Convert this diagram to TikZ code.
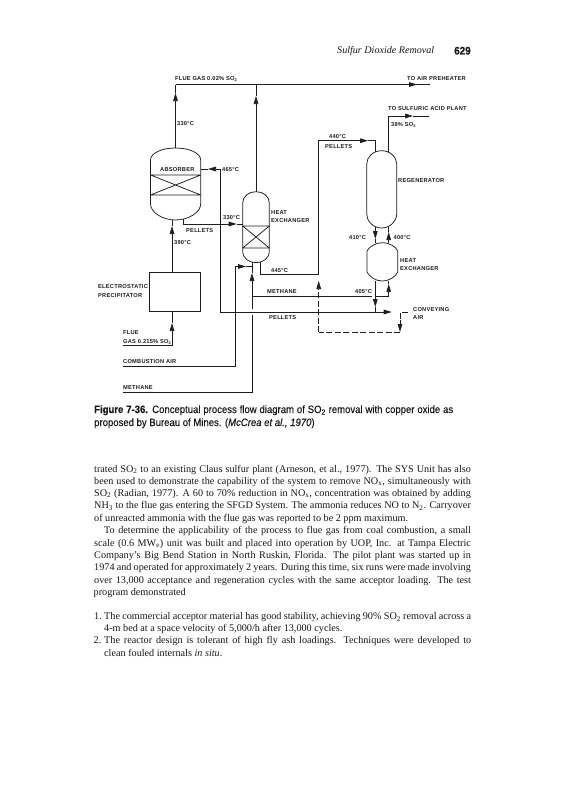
\documentclass[tikz,border=0pt]{standalone}
\usepackage{fontspec}
\setmainfont{Liberation Serif}
\newfontfamily\labfam[LetterSpace=4]{Liberation Sans}
\newfontfamily\capfam[FakeStretch=0.9,FakeBold=0.25]{Liberation Sans}
\newfontfamily\pagefam[FakeBold=0.5,FakeStretch=0.9]{Liberation Sans}
\usetikzlibrary{arrows.meta}
\definecolor{ink}{HTML}{1E1E1E}
\tikzset{
  pipe/.style={draw=ink,line width=0.75pt},
  flow/.style={pipe,-{Triangle[length=8pt,width=4.6pt]}},
  dashpipe/.style={pipe,dash pattern=on 6pt off 2.5pt},
  vessel/.style={draw=ink,line width=0.75pt},
  lab/.style={inner sep=0pt,anchor=base west,text=ink,font=\labfam\bfseries\fontsize{5.7}{6}\selectfont},
  captext/.style={inner sep=0pt,anchor=base west,text=black!90,font=\capfam\fontsize{10.6}{12}\selectfont},
  body/.style={inner sep=0pt,anchor=base west,text=black!90,font=\fontsize{10.2}{12}\selectfont},
}
\newcommand{\fitw}[2]{\makebox[#1pt][s]{#2}}
\begin{document}
\begin{tikzpicture}[x=1pt,y=-1pt]
\useasboundingbox (0,0) rectangle (565,800);
\fill[white] (0,0) rectangle (565,800);

% vessels
\draw[vessel] (150.5,160) .. controls (150.5,153) and (162,148) .. (175.5,148) .. controls (189,148) and (200.7,153) .. (200.7,160)
  -- (200.7,204) .. controls (200.7,212) and (189,220) .. (175.5,220) .. controls (162,220) and (150.5,212) .. (150.5,204) -- cycle;
\draw[vessel] (150.5,175) -- (200.7,175) (150.5,195) -- (200.7,195) (150.5,175) -- (200.7,195) (150.5,195) -- (200.7,175);
\draw[vessel] (242.7,203) .. controls (242.7,196) and (249,191.7) .. (256,191.7) .. controls (263,191.7) and (269.3,196) .. (269.3,203)
  -- (269.3,252) .. controls (269.3,258) and (263,262.7) .. (256,262.7) .. controls (249,262.7) and (242.7,258) .. (242.7,252) -- cycle;
\draw[vessel] (242.7,226) -- (269.3,226) (242.7,248) -- (269.3,248) (242.7,226) -- (269.3,248) (242.7,248) -- (269.3,226);
\draw[vessel] (366.7,164) .. controls (366.7,157) and (373,150.7) .. (381.7,150.7) .. controls (390,150.7) and (396.7,157) .. (396.7,164)
  -- (396.7,214) .. controls (396.7,221) and (390,228) .. (381.7,228) .. controls (373,228) and (366.7,221) .. (366.7,214) -- cycle;
\draw[vessel] (367,251) .. controls (369,247) and (375,242.7) .. (382,242.7) .. controls (390,242.7) and (396,247) .. (397.7,251)
  -- (397.7,272) .. controls (396,276) and (390,281) .. (382,281) .. controls (375,281) and (369,276) .. (367,272) -- cycle;
\node[draw=ink,line width=0.75pt,inner sep=0pt,minimum width=51pt,minimum height=39pt,anchor=north west] (esp) at (149,272) {};

% junctions
\coordinate (flueL) at (175.5,84.5);
\coordinate (absTop) at (175.5,148);
\coordinate (hxTopJ) at (256,84.5);
\coordinate (hxTop) at (256,191.7);
\coordinate (airEnd) at (430,84.5);
\coordinate (absIn) at (172,219.5);
\coordinate (espTop) at (172,272);
\coordinate (espBot) at (172,311);
\coordinate (flueCorner) at (172,345.7);
\coordinate (flueStart) at (122.7,345.7);
\coordinate (absOut) at (183.7,219);
\coordinate (absOutC) at (183.7,224);
\coordinate (hxIn) at (242.7,224);
\coordinate (absSide) at (200.7,169);
\coordinate (pelC) at (220.3,169);
\coordinate (pelLow) at (220.3,312);
\coordinate (caStart) at (122.7,366);
\coordinate (caC) at (235.7,366);
\coordinate (caUp) at (235.7,266.5);
\coordinate (noz) at (252,266.5);
\coordinate (nozB) at (252,262);
\coordinate (meStart) at (122.7,392);
\coordinate (meC) at (252,392);
\coordinate (meGapL) at (252,315);
\coordinate (meGapU) at (252,309);
\coordinate (meJ) at (252,296.7);
\coordinate (meA) at (371.5,296.7);
\coordinate (meB) at (375.3,296.7);
\coordinate (meR) at (388.7,296.7);
\coordinate (hxOut) at (260.7,262);
\coordinate (hxOutC) at (260.7,274.7);
\coordinate (riserB) at (318.7,274.7);
\coordinate (riserT) at (318.7,140.7);
\coordinate (regC) at (375.7,140.7);
\coordinate (regIn) at (375.7,152);
\coordinate (regOut) at (388.3,152);
\coordinate (regOutC) at (388.3,116);
\coordinate (acidEnd) at (429,116);
\coordinate (regB1) at (375.3,227);
\coordinate (regB2) at (388.7,226.5);
\coordinate (hx3T1) at (375.3,243);
\coordinate (hx3T2) at (388.7,243);
\coordinate (hx3B1) at (375.3,281);
\coordinate (hx3B2) at (388.7,281);
\coordinate (pelJ) at (375.3,312);
\coordinate (dashC) at (318.7,332);
\coordinate (dashR) at (400,332);
\coordinate (convC) at (400,312);
\coordinate (convEnd) at (408,312);
\coordinate (convA) at (400,320);
\coordinate (t11b) at (318.7,290);
% arrow tips
\coordinate (t1) at (175.5,93);
\coordinate (t2) at (256,96);
\coordinate (t3) at (417,84.5);
\coordinate (t4) at (172,226);
\coordinate (t5) at (172,323);
\coordinate (t6) at (236.7,224);
\coordinate (t7) at (208,169);
\coordinate (t8) at (391.7,312);
\coordinate (t9) at (246,266.5);
\coordinate (t10) at (252,273);
\coordinate (t11) at (318.7,281);
\coordinate (t12) at (368,140.7);
\coordinate (t13) at (413,116);
\coordinate (t14) at (375.3,239);
\coordinate (t15) at (388.7,232);
\coordinate (t16) at (375.3,307);
\coordinate (t17) at (388.7,284);
\coordinate (t18) at (400,332);

% connectors
\draw[pipe] (flueL) -- (airEnd);
\draw[flow] (hxTopJ) -- (t3);
\draw[flow] (absTop) -- (t1);
\draw[pipe] (t1) -- (flueL);
\draw[flow] (hxTop) -- (t2);
\draw[pipe] (t2) -- (hxTopJ);
\draw[flow] (espTop) -- (t4);
\draw[pipe] (t4) -- (absIn);
\draw[flow] (flueStart) -- (flueCorner) -- (t5);
\draw[pipe] (t5) -- (espBot);
\draw[flow] (absOut) -- (absOutC) -- (t6);
\draw[pipe] (t6) -- (hxIn);
\draw[flow] (pelLow) -- (pelC) -- (t7);
\draw[pipe] (t7) -- (absSide);
\draw[flow] (pelLow) -- (t8);
\draw[flow] (caStart) -- (caC) -- (caUp) -- (t9);
\draw[pipe] (t9) -- (noz);
\draw[pipe] (meStart) -- (meC) -- (meGapL);
\draw[flow] (meGapU) -- (t10);
\draw[pipe] (t10) -- (nozB);
\draw[pipe] (meJ) -- (meA);
\draw[pipe] (meB) -- (meR);
\draw[flow] (meR) -- (t17);
\draw[pipe] (t17) -- (hx3B2);
\draw[pipe] (hxOut) -- (hxOutC) -- (riserB);
\draw[flow] (riserB) -- (riserT) -- (t12);
\draw[pipe] (t12) -- (regC) -- (regIn);
\draw[flow] (regOut) -- (regOutC) -- (t13);
\draw[pipe] (t13) -- (acidEnd);
\draw[flow] (regB1) -- (t14);
\draw[pipe] (t14) -- (hx3T1);
\draw[flow] (hx3T2) -- (t15);
\draw[pipe] (t15) -- (regB2);
\draw[flow] (hx3B1) -- (t16);
\draw[pipe] (t16) -- (pelJ);
\draw[dashpipe] (dashC) -- (t11b);
\draw[flow] (t11b) -- (t11);
\draw[dashpipe] (dashR) -- (dashC);
\draw[dashpipe] (convEnd) -- (convC) -- (convA);
\draw[flow] (convA) -- (t18);

% diagram labels
\node[lab] (l1) at (175,80.5) {FLUE GAS 0.02\% SO\textsubscript{2}};
\node[lab] (l2) at (407,80.5) {TO AIR PREHEATER};
\node[lab] (l3) at (388,110.5) {TO SULFURIC ACID PLANT};
\node[lab] (l4) at (391,126.5) {38\% SO\textsubscript{2}};
\node[lab] (l5) at (177,125.5) {330°C};
\node[lab] (l6) at (329,138.5) {440°C};
\node[lab] (l7) at (325,148.5) {PELLETS};
\node[lab] (l8) at (160,171) {ABSORBER};
\node[lab] (l9) at (222,171) {465°C};
\node[lab] (l10) at (398,182) {REGENERATOR};
\node[lab] (l11) at (271,214) {HEAT};
\node[lab] (l12) at (271,222) {EXCHANGER};
\node[lab] (l13) at (223,219) {330°C};
\node[lab] (l14) at (186,232) {PELLETS};
\node[lab] (l15) at (174,244) {390°C};
\node[lab] (l16) at (349,239) {410°C};
\node[lab] (l17) at (393.5,239) {400°C};
\node[lab] (l18) at (400,262) {HEAT};
\node[lab] (l19) at (400,270) {EXCHANGER};
\node[lab] (l20) at (271,272.5) {445°C};
\node[lab] (l21) at (98,288) {ELECTROSTATIC};
\node[lab] (l22) at (98,297) {PRECIPITATOR};
\node[lab] (l23) at (267,293) {METHANE};
\node[lab] (l24) at (355,293) {405°C};
\node[lab] (l25) at (269,319) {PELLETS};
\node[lab] (l26) at (413,311) {CONVEYING};
\node[lab] (l27) at (413,319) {AIR};
\node[lab] (l28) at (123,334) {FLUE};
\node[lab] (l29) at (123,343) {GAS 0.215\% SO\textsubscript{2}};
\node[lab] (l30) at (123,363) {COMBUSTION AIR};
\node[lab] (l31) at (123,389) {METHANE};

% running head
\node[body,font=\itshape\fontsize{10.1}{12}\selectfont] (head) at (337,54) {Sulfur Dioxide Removal};
\node[captext,font=\pagefam\bfseries\fontsize{11}{12}\selectfont] (pageno) at (454,54.5) {629};

% caption
\node[captext] (c1) at (94,413) {\fitw{359}{\textbf{Figure 7-36.} Conceptual process flow diagram of SO\textsubscript{2} removal with copper oxide as}};
\node[captext] (c2) at (94,426) {proposed by Bureau of Mines. (\textit{McCrea et al., 1970})};

% body text
\node[body] (b1) at (94,472) {\fitw{376.7}{trated SO\textsubscript{2} to an existing Claus sulfur plant (Arneson, et al., 1977). The SYS Unit has also}};
\node[body] (b2) at (94,484) {\fitw{376.7}{been used to demonstrate the capability of the system to remove NO\textsubscript{x}, simultaneously with}};
\node[body] (b3) at (94,496.4) {\fitw{376.7}{SO\textsubscript{2} (Radian, 1977). A 60 to 70\% reduction in NO\textsubscript{x}, concentration was obtained by adding}};
\node[body] (b4) at (94,508.7) {\fitw{376.7}{NH\textsubscript{3} to the flue gas entering the SFGD System. The ammonia reduces NO to N\textsubscript{2}. Carryover}};
\node[body] (b5) at (94,521) {of unreacted ammonia with the flue gas was reported to be 2 ppm maximum.};
\node[body] (b6) at (104,533.7) {\fitw{366.7}{To determine the applicability of the process to flue gas from coal combustion, a small}};
\node[body] (b7) at (94,546) {\fitw{376.7}{scale (0.6 MW\textsubscript{e}) unit was built and placed into operation by UOP, Inc. at Tampa Electric}};
\node[body] (b8) at (94,558.4) {\fitw{376.7}{Company’s Big Bend Station in North Ruskin, Florida. The pilot plant was started up in}};
\node[body] (b9) at (94,570.7) {\fitw{376.7}{1974 and operated for approximately 2 years. During this time, six runs were made involving}};
\node[body] (b10) at (94,583) {\fitw{376.7}{over 13,000 acceptance and regeneration cycles with the same acceptor loading. The test}};
\node[body] (b11) at (93.5,595) {program demonstrated};
\node[body] (n1) at (94,619.5) {1.};
\node[body] (n1a) at (104,619.5) {\fitw{367}{The commercial acceptor material has good stability, achieving 90\% SO\textsubscript{2} removal across a}};
\node[body] (n1b) at (104,631.8) {4-m bed at a space velocity of 5,000/h after 13,000 cycles.};
\node[body] (n2) at (93.5,643.8) {2.};
\node[body] (n2a) at (104,643.8) {\fitw{367}{The reactor design is tolerant of high fly ash loadings. Techniques were developed to}};
\node[body] (n2b) at (104,656.2) {clean fouled internals \textit{in situ}.};
\end{tikzpicture}
\end{document}
